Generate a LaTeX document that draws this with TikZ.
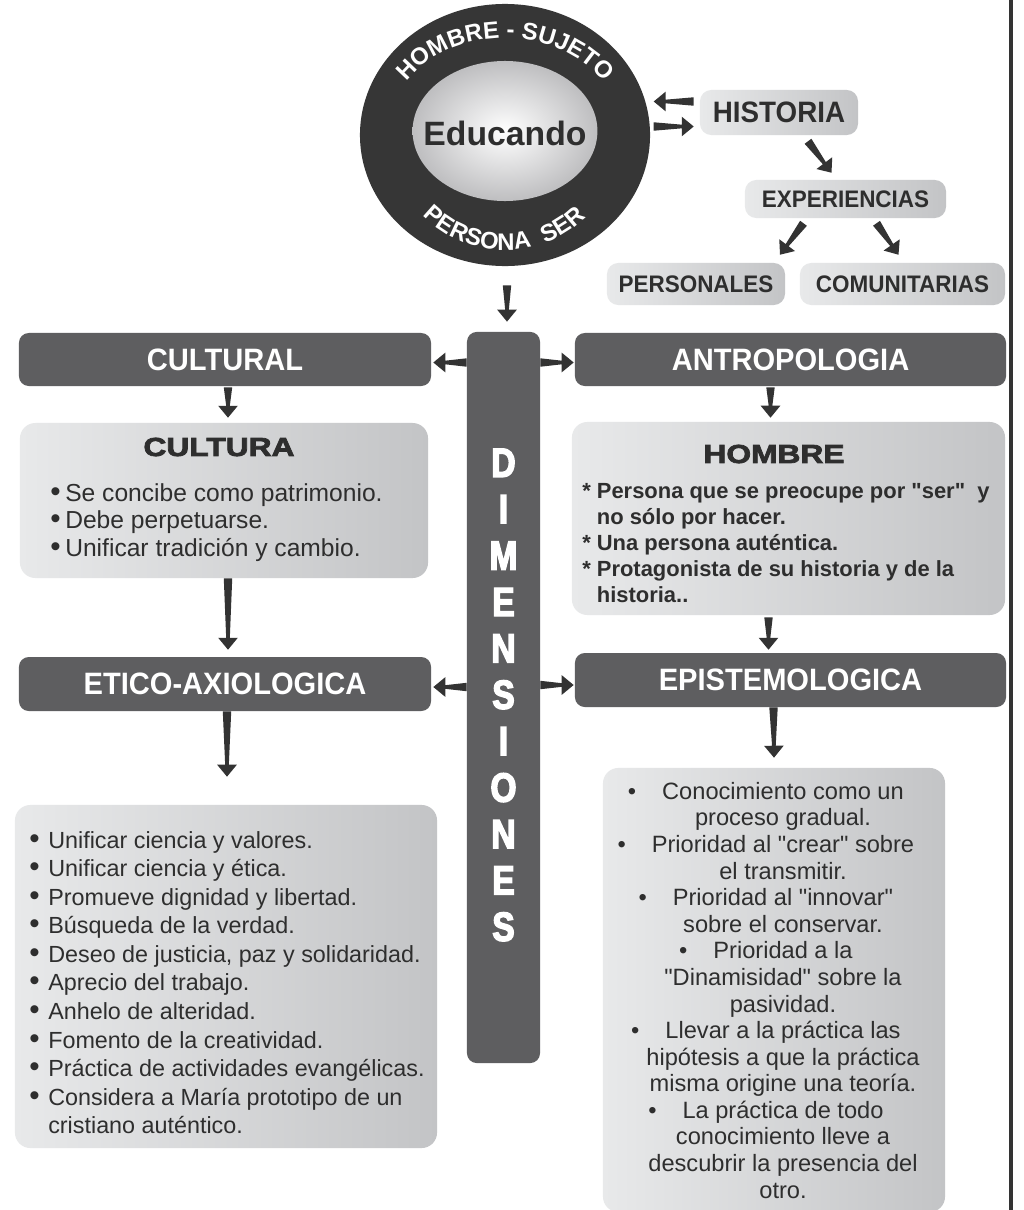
\documentclass[tikz,border=0pt]{standalone}
\usepackage{fontspec}
\setmainfont{Liberation Sans}[Ligatures=TeXOff]
\newfontfamily\narrowfont{Liberation Sans}[FakeStretch=0.94]
\newfontfamily\heavyfont{Liberation Sans}[FakeStretch=1.22,BoldFeatures={FakeBold=3}]
\newfontfamily\dimfont{Liberation Sans}[FakeStretch=0.82,BoldFeatures={FakeBold=3.5}]
\usetikzlibrary{calc,shapes.geometric,decorations.text}

\definecolor{boxgray}{HTML}{5E5E60}
\definecolor{ringgray}{HTML}{363636}
\definecolor{arrowgray}{HTML}{333333}
\definecolor{textgray}{HTML}{2E2E2E}
\definecolor{lightL}{HTML}{E8E9EA}
\definecolor{lightR}{HTML}{C3C4C6}
\definecolor{coreedge}{HTML}{BEBEC0}

\newcommand{\bigdot}{{\fontsize{21}{21}\selectfont\textbullet}}
\newcommand{\bul}{\makebox[0.375cm][l]{\bigdot}}
\newcommand{\ebul}{\makebox[0.475cm][l]{\bigdot}}
\newcommand{\lbul}{\llap{\textbullet\hspace{0.65cm}}}
\newcommand{\ringfont}{\bfseries\fontsize{17}{17}\selectfont\color{white}}

\newcommand{\wedgearrow}[2]{%
  \coordinate (wa-s) at (#1);
  \coordinate (wa-e) at (#2);
  \coordinate (wa-b) at ($(wa-e)!8.5pt!(wa-s)$);
  \fill[arrowgray] ($(wa-s)!3pt!90:(wa-e)$) -- ($(wa-b)!1.3pt!90:(wa-e)$)
    -- ($(wa-b)!7pt!90:(wa-e)$) -- (wa-e) -- ($(wa-b)!7pt!-90:(wa-e)$)
    -- ($(wa-b)!1.3pt!-90:(wa-e)$) -- ($(wa-s)!3pt!-90:(wa-e)$) -- cycle;}

\begin{document}
\begin{tikzpicture}[x=0.025cm,y=0.025cm,
  darkbox/.style={rectangle, rounded corners=7pt, fill=boxgray, text=white, inner sep=0pt,
    font=\narrowfont\bfseries\fontsize{22}{22}\selectfont},
  lightbox/.style={rectangle, rounded corners=11pt, left color=lightL, right color=lightR, inner sep=0pt},
  tagbox/.style={lightbox, rounded corners=8pt, text=textgray,
    font=\narrowfont\bfseries\fontsize{17}{17}\selectfont},
  headtext/.style={text=textgray, inner sep=0pt, font=\heavyfont\bfseries\fontsize{18.5}{18.5}\selectfont},
  listtext/.style={text=textgray, align=left, inner sep=0pt, font=\fontsize{16.6}{20.3}\selectfont},
  dimtext/.style={text=white, align=center, inner sep=0pt, font=\dimfont\bfseries\fontsize{29}{33}\selectfont}]

\useasboundingbox (0,0) rectangle (1024,-1210);
\fill[white] (0,0) rectangle (1024,-1210);

% educando
\node[ellipse, fill=ringgray, minimum width=7.25cm, minimum height=6.55cm] (ring) at (505,-135) {};
\node[ellipse, shading=radial, inner color=white, outer color=coreedge, inner sep=0pt,
  minimum width=4.62cm, minimum height=3.5cm] (core) at (505,-131) {};
\node[text=textgray, font=\bfseries\fontsize{24}{24}\selectfont] (educ) at (505,-133) {Educando};
\path[decorate, decoration={text along path, text align=center, text={|\ringfont|HOMBRE - SUJETO}}]
  ($(ring.center)+(164:118 and 97)$) arc [start angle=164, end angle=16, x radius=118, y radius=97];
\path[decorate, decoration={text along path, text align=center, text={|\ringfont|PERSONA}}]
  ($(ring.center)+(221:115)$) arc [start angle=221, end angle=287, radius=115];
\path[decorate, decoration={text along path, text align=center, text={|\ringfont|SER}}]
  ($(ring.center)+(285:115)$) arc [start angle=285, end angle=320, radius=115];

\node[tagbox, minimum width=3.95cm, minimum height=1.125cm, font=\narrowfont\bfseries\fontsize{21}{21}\selectfont] (historia) at (779,-112.5) {HISTORIA};
\node[tagbox, minimum width=5.025cm, minimum height=0.95cm] (exper) at (845.5,-199) {EXPERIENCIAS};
\node[tagbox, minimum width=4.45cm, minimum height=1.05cm] (personal) at (696,-284) {PERSONALES};
\node[tagbox, minimum width=5.125cm, minimum height=1.05cm] (comun) at (902.5,-284) {COMUNITARIAS};

% dimensiones
\node[rectangle, rounded corners=7pt, fill=boxgray, minimum width=1.825cm, minimum height=18.275cm] (dim) at (503.5,-697.5) {};
\node[dimtext] (dimword) at (503.5,-695) {D\\I\\M\\E\\N\\S\\I\\O\\N\\E\\S};

\node[darkbox, minimum width=10.3cm, minimum height=1.325cm] (cultural) at (225,-359.5) {CULTURAL};
\node[darkbox, minimum width=10.775cm, minimum height=1.325cm] (antrop) at (790.5,-359.5) {ANTROPOLOGIA};
\node[darkbox, minimum width=10.3cm, minimum height=1.35cm] (etico) at (225,-684) {ETICO-AXIOLOGICA};
\node[darkbox, minimum width=10.775cm, minimum height=1.35cm] (epist) at (790.5,-680) {EPISTEMOLOGICA};

\node[lightbox, minimum width=10.2cm, minimum height=3.875cm] (cultura) at (224,-500.5) {};
\node[headtext] (culturaT) at (219,-447) {CULTURA};
\node[listtext, anchor=north west, font=\fontsize{17.5}{19.8}\selectfont] (culturaL) at (50,-483)
  {\bul Se concibe como patrimonio.\\ \bul Debe perpetuarse.\\ \bul Unificar tradición y cambio.};

\node[lightbox, minimum width=10.825cm, minimum height=4.825cm] (hombre) at (788.5,-518.5) {};
\node[headtext] (hombreT) at (774,-454) {HOMBRE};
\node[listtext, anchor=north west, font=\bfseries\fontsize{15.6}{18.5}\selectfont] (hombreL) at (582,-483)
  {* Persona que se preocupe por "ser"\ \ y\\ \phantom{* }no sólo por hacer.\\ * Una persona auténtica.\\
   * Protagonista de su historia y de la\\ \phantom{* }historia..};

\node[lightbox, minimum width=10.55cm, minimum height=8.575cm] (eticoBox) at (226,-976.5) {};
\node[listtext, anchor=north west] (eticoText) at (29,-831) {\ebul Unificar ciencia y valores.\\
  \ebul Unificar ciencia y ética.\\ \ebul Promueve dignidad y libertad.\\
  \ebul Búsqueda de la verdad.\\ \ebul Deseo de justicia, paz y solidaridad.\\
  \ebul Aprecio del trabajo.\\ \ebul Anhelo de alteridad.\\
  \ebul Fomento de la creatividad.\\ \ebul Práctica de actividades evangélicas.\\
  \ebul Considera a María prototipo de un\\ \hspace*{0.475cm}cristiano auténtico.};

\node[lightbox, minimum width=8.55cm, minimum height=11.1cm] (epistBox) at (774,-990) {};
\node[listtext, align=center, anchor=north, font=\fontsize{16.8}{18.9}\selectfont] (epistText) at (783,-782)
  {\lbul Conocimiento como un\\ proceso gradual.\\ \lbul Prioridad al "crear" sobre\\ el transmitir.\\
   \lbul Prioridad al "innovar"\\ sobre el conservar.\\ \lbul Prioridad a la\\ "Dinamisidad" sobre la\\ pasividad.\\
   \lbul Llevar a la práctica las\\ hipótesis a que la práctica\\ misma origine una teoría.\\
   \lbul La práctica de todo\\ conocimiento lleve a\\ descubrir la presencia del\\ otro.};

% arrows
\wedgearrow{$(historia.west)+(-6,11)$}{$(historia.west)+(-46,11)$}
\wedgearrow{$(historia.west)+(-46,-14)$}{$(historia.west)+(-6,-14)$}
\wedgearrow{$(historia.south)+(29,-6)$}{$(exper.north)+(-14,7)$}
\wedgearrow{$(exper.south)+(-42,-5)$}{$(personal.north)+(84,8)$}
\wedgearrow{$(exper.south)+(31,-5)$}{$(comun.north)+(-4,8)$}
\wedgearrow{$(ring.south)+(2,-19)$}{$(dim.north)+(3.5,10)$}
\wedgearrow{$(dim.west |- cultural.east)+(0,-3)$}{$(cultural.east)+(2,-3)$}
\wedgearrow{$(dim.east |- antrop.west)+(0,-3)$}{$(antrop.west)+(-1,-3)$}
\wedgearrow{$(dim.west |- etico.east)+(0,-3)$}{$(etico.east)+(2,-3)$}
\wedgearrow{$(dim.east |- epist.west)+(0,-5)$}{$(epist.west)+(-1,-5)$}
\wedgearrow{$(cultural.south)+(3,-1)$}{$(cultura.north)+(4,5)$}
\wedgearrow{$(antrop.south)+(-20,-1)$}{$(hombre.north)+(-18,4)$}
\wedgearrow{$(cultura.south)+(4,0)$}{$(etico.north)+(3,7)$}
\wedgearrow{$(hombre.south)+(-20,-2)$}{$(epist.north)+(-22,3)$}
\wedgearrow{$(etico.south)+(2,0)$}{$(eticoBox.north)+(1,28)$}
\wedgearrow{$(epist.south)+(-17,0)$}{$(epistBox.north)+(0,10)$}

\draw[arrowgray, line width=2.2pt] (1011,0) -- (1011,-1210);
\end{tikzpicture}
\end{document}
